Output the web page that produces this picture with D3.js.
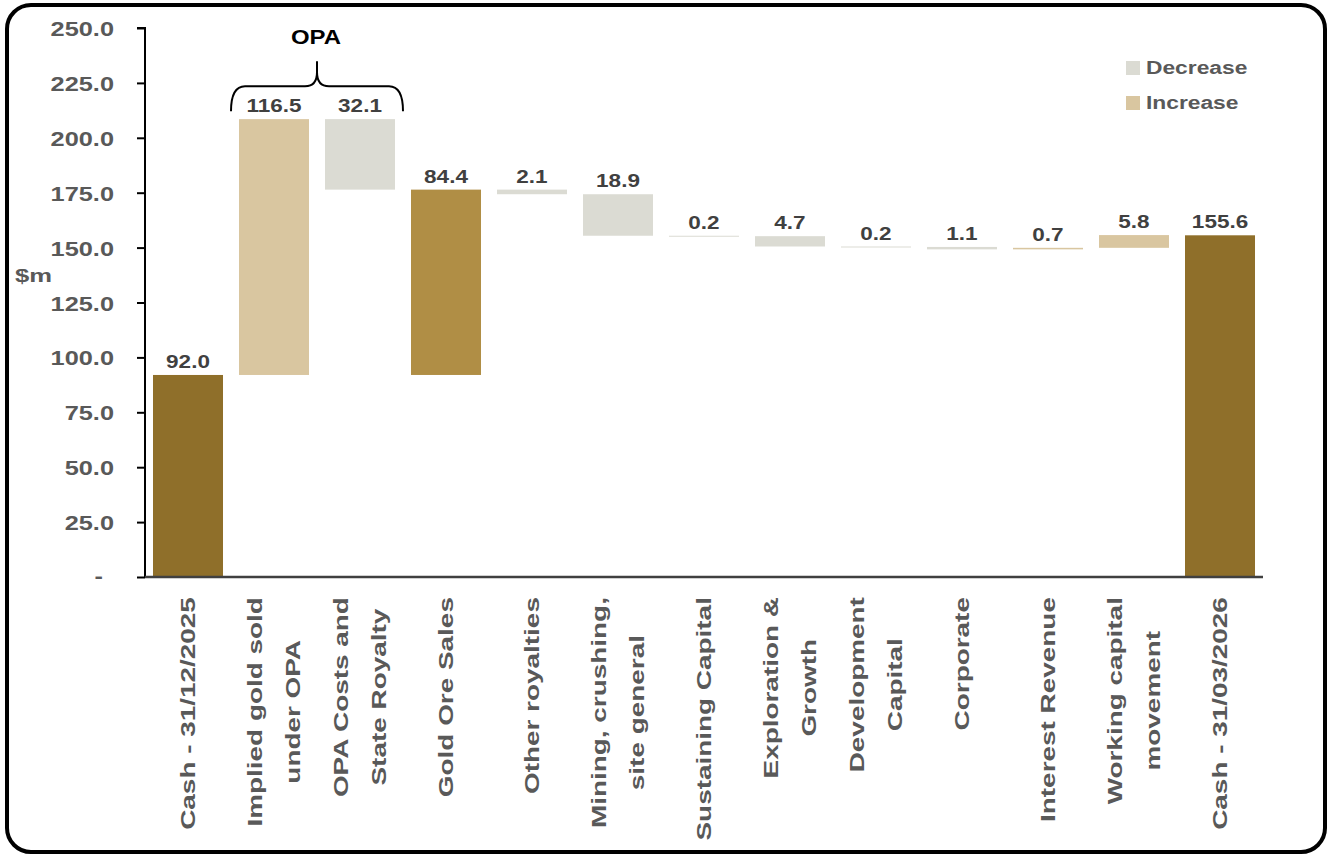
<!DOCTYPE html>
<html>
<head>
<meta charset="utf-8">
<script src="https://cdn.jsdelivr.net/npm/d3@7"></script>
<style>
  body { margin: 0; background: #fff; }
  text { font-family: "Liberation Sans", Arial, sans-serif; font-weight: bold; }
</style>
</head>
<body>
<div class="chart"></div>
<script>
var categories = [
  'Cash - 31/12/2025',
  'Implied gold sold\nunder OPA',
  'OPA Costs and\nState Royalty',
  'Gold Ore Sales',
  'Other royalties',
  'Mining, crushing,\nsite general',
  'Sustaining Capital',
  'Exploration &\nGrowth',
  'Development\nCapital',
  'Corporate',
  'Interest Revenue',
  'Working capital\nmovement',
  'Cash - 31/03/2026'
];
var values = [92.0, 116.5, 32.1, 84.4, 2.1, 18.9, 0.2, 4.7, 0.2, 1.1, 0.7, 5.8, 155.6];
// total = cash balance, net = OPA net on top of opening cash
var kinds = ['total', 'inc', 'dec', 'net', 'dec', 'dec', 'dec', 'dec', 'dec', 'dec', 'inc', 'inc', 'total'];
var yTicks = [0, 25, 50, 75, 100, 125, 150, 175, 200, 225, 250];
var legendItems = [
  { name: 'Decrease', kind: 'dec' },
  { name: 'Increase', kind: 'inc' }
];
var bracketLabel = 'OPA';

var colors = { total: '#8f6f2a', net: '#b08e45', inc: '#d9c6a0', dec: '#dbdbd3' };

function drawChart() {
  var width = 1331, height = 856;
  var svg = d3.select('.chart').append('svg')
    .attr('width', width)
    .attr('height', height);

  // frame
  svg.append('rect')
    .attr('x', 7).attr('y', 5)
    .attr('width', 1318).attr('height', 847)
    .attr('rx', 24)
    .attr('fill', 'none')
    .attr('stroke', '#000')
    .attr('stroke-width', 4);

  var x = d3.scaleBand()
    .domain(categories)
    .range([145, 1263])
    .paddingInner(0.186)
    .paddingOuter(0.093);

  var y = d3.scaleLinear()
    .domain([0, 250])
    .range([577, 28]);

  // waterfall positions
  var running = 0, lastTotal = 0;
  var bars = values.map(function(v, i) {
    var k = kinds[i], lo, hi;
    if (k == 'total') { lo = 0; hi = v; running = v; lastTotal = v; }
    else if (k == 'inc') { lo = running; hi = running + v; running = hi; }
    else if (k == 'dec') { lo = running - v; hi = running; running = lo; }
    else { lo = lastTotal; hi = lastTotal + v; running = hi; }
    return { cat: categories[i], value: v, kind: k, lo: lo, hi: hi };
  });

  svg.append('g')
    .attr('class', 'bars')
    .selectAll('rect')
    .data(bars)
    .enter().append('rect')
    .attr('x', function(d) { return x(d.cat); })
    .attr('width', x.bandwidth())
    .attr('y', function(d) { return y(d.hi); })
    .attr('height', function(d) { return Math.max(1, y(d.lo) - y(d.hi)); })
    .attr('fill', function(d) { return colors[d.kind]; });

  var fmt = d3.format('.1f');
  svg.append('g')
    .attr('class', 'values')
    .selectAll('text')
    .data(bars)
    .enter().append('text')
    .attr('transform', function(d) {
      return 'translate(' + (x(d.cat) + x.bandwidth() / 2) + ',' + (y(d.hi) - 7) + ') scale(1.25,1)';
    })
    .attr('text-anchor', 'middle')
    .attr('font-size', 18)
    .attr('fill', '#404040')
    .text(function(d) { return fmt(d.value); });

  // y axis
  var yAxis = d3.axisLeft(y)
    .tickValues(yTicks)
    .tickSize(8)
    .tickFormat('');
  var gy = svg.append('g')
    .attr('transform', 'translate(145,0)')
    .call(yAxis);
  gy.select('.domain').attr('stroke', '#000').attr('stroke-width', 2).attr('d', 'M-8,' + y(250) + 'H0V' + y(0));
  gy.selectAll('.tick line').attr('stroke', '#000').attr('stroke-width', 2);

  svg.append('g')
    .attr('class', 'y-labels')
    .selectAll('text')
    .data(yTicks)
    .enter().append('text')
    .attr('transform', function(d) {
      return d == 0 ? 'translate(103,' + (y(d) + 6) + ') scale(1.3,1)'
                    : 'translate(114,' + (y(d) + 8) + ') scale(1.3,1)';
    })
    .attr('text-anchor', 'end')
    .attr('font-size', 19.5)
    .attr('fill', '#595959')
    .text(function(d) { return d == 0 ? '-' : fmt(d); });

  svg.append('text')
    .attr('transform', 'translate(15,282) scale(1.35,1)')
    .attr('font-size', 19)
    .attr('fill', '#595959')
    .text('$m');

  // x axis line
  svg.append('line')
    .attr('x1', 145).attr('x2', 1263)
    .attr('y1', y(0)).attr('y2', y(0))
    .attr('stroke', '#404040')
    .attr('stroke-width', 2.5);

  // rotated category labels
  var lineGap = 38, sx = 1.33;
  categories.forEach(function(cat) {
    var lines = cat.split('\n');
    var cx = x(cat) + x.bandwidth() / 2;
    var g = svg.append('g').attr('class', 'x-label');
    var texts = lines.map(function(line, j) {
      var bx = cx + 7 + (j - (lines.length - 1) / 2) * lineGap;
      return g.append('text')
        .attr('text-anchor', 'middle')
        .attr('font-size', 21)
        .attr('fill', '#595959')
        .attr('data-x', bx)
        .text(line);
    });
    var maxLen = d3.max(texts, function(t) { return t.node().getComputedTextLength(); }) * sx;
    var cy = 597 + maxLen / 2;
    texts.forEach(function(t) {
      t.attr('transform', 'translate(' + t.attr('data-x') + ',' + cy + ') rotate(-90) scale(' + sx + ',1)');
    });
  });

  // OPA bracket over the two OPA bars
  var bx0 = x(categories[1]) - x.step() * x.paddingInner() / 2;
  var bx1 = x(categories[2]) + x.bandwidth() + x.step() * x.paddingInner() / 2;
  var bm = (bx0 + bx1) / 2;
  var bTop = y(d3.max(bars, function(d) { return d.hi; }));
  var yEnd = bTop - 8, yBar = bTop - 33, yTip = bTop - 58;
  var path = d3.path();
  path.moveTo(bx0, yEnd);
  path.quadraticCurveTo(bx0, yBar, bx0 + 14, yBar);
  path.lineTo(bm - 12, yBar);
  path.quadraticCurveTo(bm, yBar, bm, yBar - 14);
  path.lineTo(bm, yTip);
  path.moveTo(bm, yBar - 14);
  path.quadraticCurveTo(bm, yBar, bm + 12, yBar);
  path.lineTo(bx1 - 14, yBar);
  path.quadraticCurveTo(bx1, yBar, bx1, yEnd);
  svg.append('path')
    .attr('d', path.toString())
    .attr('fill', 'none')
    .attr('stroke', '#000')
    .attr('stroke-width', 2);

  svg.append('text')
    .attr('transform', 'translate(' + (bm - 1) + ',44) scale(1.14,1)')
    .attr('text-anchor', 'middle')
    .attr('font-size', 21)
    .attr('fill', '#000')
    .text(bracketLabel);

  // legend
  var legend = svg.append('g')
    .attr('class', 'legend')
    .selectAll('g')
    .data(legendItems)
    .enter().append('g')
    .attr('transform', function(d, i) { return 'translate(1126,' + (61 + i * 35) + ')'; });
  legend.append('rect')
    .attr('width', 14).attr('height', 14)
    .attr('fill', function(d) { return colors[d.kind]; });
  legend.append('text')
    .attr('transform', 'translate(20,13) scale(1.2,1)')
    .attr('font-size', 19)
    .attr('fill', '#595959')
    .text(function(d) { return d.name; });
}

drawChart();
</script>
</body>
</html>
